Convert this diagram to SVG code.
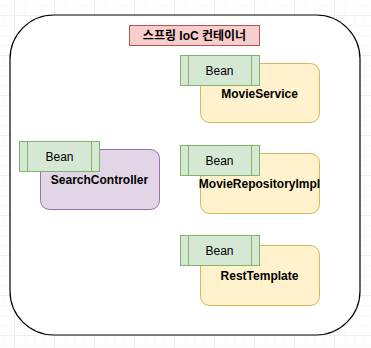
<svg xmlns="http://www.w3.org/2000/svg" width="371" height="348" viewBox="0 0 371 348">
<defs>
<pattern id="minor" x="4" y="5" width="10" height="10" patternUnits="userSpaceOnUse">
<path d="M0 0H10M0 0V10" fill="none" stroke="#f3f3f3" stroke-width="1"/>
</pattern>
<pattern id="major" x="14" y="15" width="40" height="40" patternUnits="userSpaceOnUse">
<path d="M0 0H40M0 0V40" fill="none" stroke="#e6e6e6" stroke-width="1"/>
</pattern>
</defs>
<style>
text{font-family:"Liberation Sans","Noto Sans CJK KR",Arial,sans-serif;font-size:12px;fill:#000;text-anchor:middle}
.b{font-weight:bold}
.bean{fill:#d5e8d4;stroke:#82b366;stroke-width:1}
.yel{fill:#fff2cc;stroke:#d6b656;stroke-width:1}
.pur{fill:#e1d5e7;stroke:#9673a6;stroke-width:1}
</style>
<rect width="371" height="348" fill="#ffffff"/>
<rect width="371" height="348" fill="url(#minor)"/>
<rect width="371" height="348" fill="url(#major)"/>
<g id="container">
<rect x="10" y="15" width="350" height="320" rx="44" ry="44" fill="#ffffff" stroke="#000000" stroke-width="1.2"/>
</g>
<g id="title">
<rect x="129.5" y="25.5" width="130" height="20" fill="#f8cecc" stroke="#b85450"/>
<text class="b" x="194.5" y="40">스프링 IoC 컨테이너</text>
</g>
<g id="connectors"></g>
<g id="movieService">
<rect class="yel" x="200.5" y="63.5" width="119" height="59" rx="9"/>
<text class="b" x="259.5" y="98">MovieService</text>
</g>
<g id="movieServiceBean">
<rect class="bean" x="180.5" y="55.5" width="79" height="30"/>
<path d="M188.5 55.5V85.5M251.5 55.5V85.5" stroke="#82b366" fill="none"/>
<text x="219.5" y="75">Bean</text>
</g>
<g id="searchController">
<rect class="pur" x="40.5" y="149.5" width="119" height="60" rx="9"/>
<text class="b" x="99.5" y="184">SearchController</text>
</g>
<g id="searchControllerBean">
<rect class="bean" x="19.5" y="141.5" width="80" height="30"/>
<path d="M27.5 141.5V171.5M91.5 141.5V171.5" stroke="#82b366" fill="none"/>
<text x="59.5" y="161">Bean</text>
</g>
<g id="movieRepositoryImpl">
<rect class="yel" x="200.5" y="153.5" width="119" height="60" rx="9"/>
<text class="b" x="259.5" y="188">MovieRepositoryImpl</text>
</g>
<g id="movieRepositoryImplBean">
<rect class="bean" x="180.5" y="145.5" width="79" height="30"/>
<path d="M188.5 145.5V175.5M251.5 145.5V175.5" stroke="#82b366" fill="none"/>
<text x="219.5" y="165">Bean</text>
</g>
<g id="restTemplate">
<rect class="yel" x="200.5" y="245.5" width="119" height="60" rx="9"/>
<text class="b" x="259.5" y="280">RestTemplate</text>
</g>
<g id="restTemplateBean">
<rect class="bean" x="180.5" y="235.5" width="79" height="30"/>
<path d="M188.5 235.5V265.5M251.5 235.5V265.5" stroke="#82b366" fill="none"/>
<text x="219.5" y="255">Bean</text>
</g>
</svg>
